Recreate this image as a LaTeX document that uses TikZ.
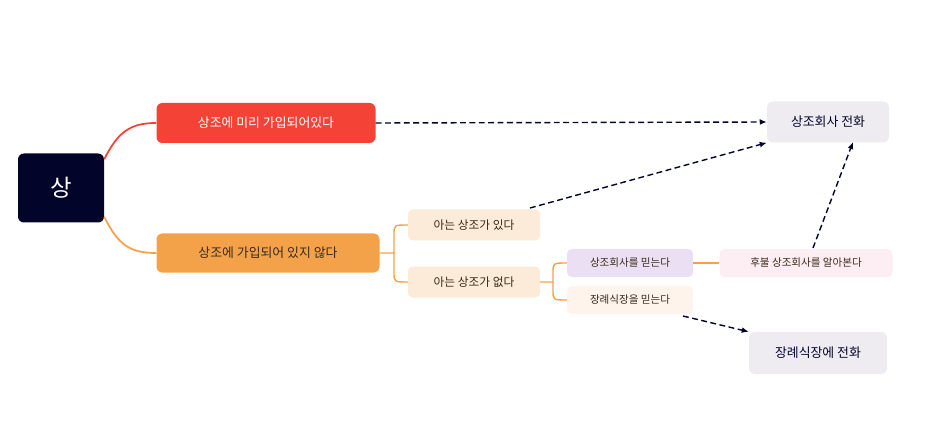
\documentclass[tikz,border=0pt]{standalone}
\usepackage{fontspec}
\setmainfont{Noto Sans CJK KR}
\usetikzlibrary{arrows.meta}
\definecolor{rootnavy}{HTML}{02042A}
\definecolor{redbranch}{HTML}{F44336}
\definecolor{orangebranch}{HTML}{F4A24A}
\definecolor{peachfill}{HTML}{FDEBD9}
\definecolor{lavfill}{HTML}{EBE0F3}
\definecolor{creamfill}{HTML}{FEF4EC}
\definecolor{pinkfill}{HTML}{FDEEF4}
\definecolor{greyfill}{HTML}{EEECF0}
\definecolor{textdark}{HTML}{3A2A1A}

\begin{document}
\begin{tikzpicture}[x=0.03cm, y=-0.03cm,
  box/.style={rounded corners=5pt, inner sep=0pt, font=\fontsize{11}{13}\selectfont},
  small/.style={box, rounded corners=4pt, font=\fontsize{10}{12}\selectfont, text=textdark},
  target/.style={box, fill=greyfill, text=rootnavy},
  link/.style={orangebranch, line width=1.2pt},
  jump/.style={rootnavy, line width=1.2pt, dash pattern=on 5pt off 3pt, -{Latex[length=6pt,width=5pt]}}]

\useasboundingbox (0,0) rectangle (935,431);

%─────────────
% Nodes
%─────────────
\node[box, fill=rootnavy, text=white, minimum width=86*0.03cm, minimum height=69*0.03cm,
  font=\fontsize{20}{24}\selectfont] (root) at (61,188) {상};
\node[box, fill=redbranch, text=white, minimum width=219*0.03cm, minimum height=40*0.03cm] (paid) at (266,123) {상조에 미리 가입되어있다};
\node[box, fill=orangebranch, text=textdark, minimum width=223*0.03cm, minimum height=39*0.03cm] (unpaid) at (268,253) {상조에 가입되어 있지 않다};

\node[small, fill=peachfill, minimum width=132*0.03cm, minimum height=31*0.03cm] (know) at (474,225) {아는 상조가 있다};
\node[small, fill=peachfill, minimum width=132*0.03cm, minimum height=31*0.03cm] (noknow) at (474,282) {아는 상조가 없다};

\node[small, fill=lavfill, minimum width=126*0.03cm, minimum height=28*0.03cm, font=\fontsize{9}{11}\selectfont] (trustco) at (630,263) {상조회사를 믿는다};
\node[small, fill=creamfill, minimum width=126*0.03cm, minimum height=28*0.03cm, font=\fontsize{9}{11}\selectfont] (trusthall) at (630,300) {장례식장을 믿는다};
\node[small, fill=pinkfill, minimum width=173*0.03cm, minimum height=28*0.03cm, font=\fontsize{9}{11}\selectfont] (later) at (806,263) {후불 상조회사를 알아본다};

\node[target, minimum width=122*0.03cm, minimum height=41*0.03cm] (callco) at (828,122) {상조회사 전화};
\node[target, minimum width=138*0.03cm, minimum height=42*0.03cm] (callhall) at (818,353) {장례식장에 전화};

%─────────────
% Branches
%─────────────
\draw[redbranch, line width=1.5pt] (root.north east) ++(0,6) .. controls (118,132) and (130,123) .. (paid.west);
\draw[orangebranch, line width=1.5pt] (root.south east) ++(0,-6) .. controls (118,245) and (130,253) .. (unpaid.west);

\draw[link] (unpaid.east) -- (394,253) -- (394,235) .. controls (394,225) .. (know.west);
\draw[link] (394,253) -- (394,272) .. controls (394,282) .. (noknow.west);
\draw[link] (noknow.east) -- (553,282) -- (553,273) .. controls (553,263) .. (trustco.west);
\draw[link] (553,282) -- (553,290) .. controls (553,300) .. (trusthall.west);
\draw[link] (trustco.east) -- (later.west);

%─────────────
% Jumps
%─────────────
\draw[jump] (paid.east) -- (callco.west);
\coordinate (knowout) at (530,208);
\draw[jump] (knowout) -- (callco.south west);
\coordinate (laterout) at (813,248);
\draw[jump] (laterout) -- (853,142);
\coordinate (hallout) at (683,316);
\draw[jump] (hallout) -- (callhall.north west);

\end{tikzpicture}
\end{document}
